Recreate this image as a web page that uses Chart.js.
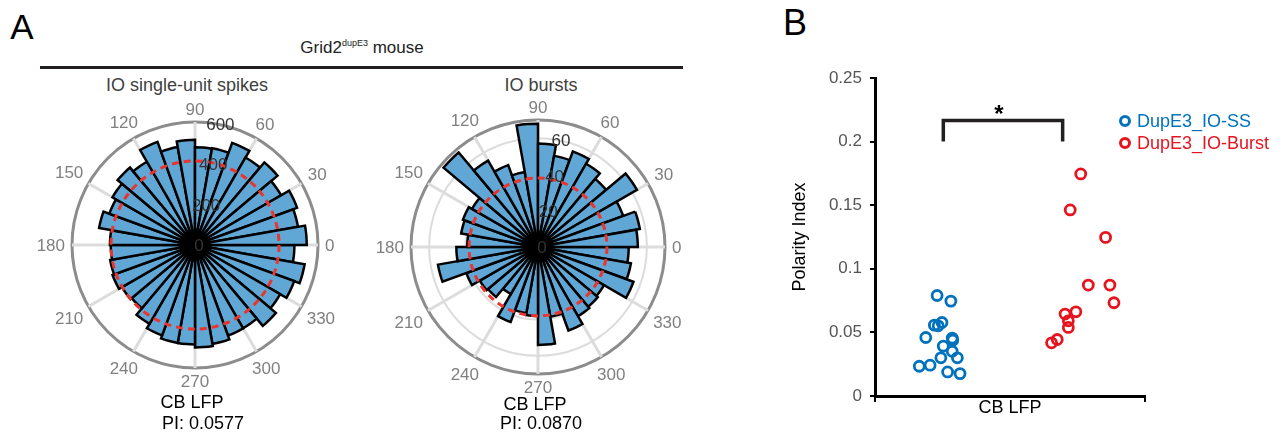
<!DOCTYPE html>
<html>
<head>
<meta charset="utf-8">
<script src="https://cdn.jsdelivr.net/npm/chart.js@4.4.1/dist/chart.umd.min.js"></script>
<style>
  body { margin: 0; width: 1286px; height: 437px; background: #fff; position: relative; overflow: hidden;
         font-family: "Liberation Sans", Arial, sans-serif; }
  .t { position: absolute; white-space: nowrap; line-height: 1; transform: translate(-50%, -50%); }
  .l { position: absolute; white-space: nowrap; line-height: 1; transform: translateY(-50%); font-size: 18px; }
  canvas { position: absolute; }
  .mk { position: absolute; width: 6px; height: 6px; border-radius: 50%; border: 3px solid; }
</style>
</head>
<body>
<div class="t" style="left:22px;top:26px;font-size:35px">A</div>
<div class="t" style="left:795px;top:23px;font-size:36px">B</div>
<div class="t" style="left:362px;top:47px;font-size:17px;color:#222">Grid2<sup style="font-size:9px;vertical-align:7px">dupE3</sup> mouse</div>
<div style="position:absolute;left:40px;top:66px;width:643px;height:3px;background:#231f20"></div>
<div class="t" style="left:187px;top:85px;font-size:18px;color:#404040">IO single-unit spikes</div>
<div class="t" style="left:541px;top:85px;font-size:18px;color:#404040">IO bursts</div>

<canvas id="roseSS" width="336" height="336" style="left:27px;top:77px"></canvas>
<canvas id="roseBurst" width="344" height="344" style="left:366px;top:75px"></canvas>

<div class="t" style="left:192px;top:402px;font-size:18px">CB LFP</div>
<div class="t" style="left:203px;top:423px;font-size:18px">PI: 0.0577</div>
<div class="t" style="left:535px;top:404px;font-size:18px">CB LFP</div>
<div class="t" style="left:541px;top:423px;font-size:18px">PI: 0.0870</div>

<canvas id="piChart" width="516" height="437" style="left:770px;top:0px"></canvas>
<div style="position:absolute;left:999px;top:102px;transform:translateX(-50%);font-size:24px;line-height:1;font-weight:bold">*</div>
<span class="mk" style="left:1119px;top:115px;border-color:#0072bd"></span>
<div class="l" style="left:1137px;top:121px;color:#0072bd">DupE3_IO-SS</div>
<span class="mk" style="left:1119px;top:137px;border-color:#e6141e"></span>
<div class="l" style="left:1137px;top:143px;color:#e6141e">DupE3_IO-Burst</div>

<script>
// bins de 10° (angle de départ de chaque bin)
const binStarts = [0, 10, 20, 30, 40, 50, 60, 70, 80, 90, 100, 110, 120, 130, 140, 150, 160, 170,
                   180, 190, 200, 210, 220, 230, 240, 250, 260, 270, 280, 290, 300, 310, 320, 330, 340, 350];
const thetaTicks = [0, 30, 60, 90, 120, 150, 180, 210, 240, 270, 300, 330];

// IO single-unit spikes
const ssCounts = [545, 510, 530, 485, 526, 493, 530, 479, 477, 513, 485, 535, 469, 493, 465, 445, 475, 415,
                  411, 420, 428, 411, 403, 444, 469, 485, 485, 500, 490, 470, 469, 515, 480, 515, 543, 485];
const ssRTicks = [0, 200, 400, 600];
const ssRMax = 600;
const ssDashed = 410;

// IO bursts
const burstCounts = [55, 57, 50, 63, 49, 53, 56, 51, 57, 68, 42, 48, 55, 68, 42, 44, 43, 39,
                     45, 56, 42, 37, 36, 30, 44, 37, 38, 54, 39, 49, 44, 43, 42, 56, 52, 50];
const burstRTicks = [0, 20, 40, 60];
const burstRMax = 70;
const burstDashed = 38;

// Panel B : Polarity Index (x = position de jitter)
const ssX  = [0.230, 0.281, 0.220, 0.234, 0.248, 0.188, 0.286, 0.288, 0.253, 0.286, 0.244, 0.305, 0.164, 0.204, 0.269, 0.315];
const ssPI = [0.079, 0.0746, 0.0557, 0.0552, 0.0578, 0.046, 0.0455, 0.0439, 0.0392, 0.0352, 0.030, 0.030, 0.0234, 0.0242, 0.0189, 0.0176];
const burstX  = [0.762, 0.723, 0.854, 0.790, 0.870, 0.885, 0.744, 0.704, 0.716, 0.716, 0.675, 0.654];
const burstPI = [0.1746, 0.1463, 0.1247, 0.0872, 0.0872, 0.0733, 0.0662, 0.0644, 0.0591, 0.0539, 0.0444, 0.0418];
const bracketX = [0.253, 0.253, 0.695, 0.695];
const bracketY = [0.200, 0.2166, 0.2166, 0.200];
const yTicks = [0, 0.05, 0.1, 0.15, 0.2, 0.25];

const FONT = '"Liberation Sans", Arial, sans-serif';

// --- libellés angulaires, ticks radiaux et cercle rouge ---
const roseDeco = {
    id: 'roseDeco',
    afterDatasetsDraw(chart, args, opts) {
        const s = chart.scales.r, ctx = chart.ctx;
        ctx.save();
        ctx.strokeStyle = '#e8352f';
        ctx.lineWidth = 3;
        ctx.setLineDash([7, 5]);
        ctx.beginPath();
        ctx.arc(s.xCenter, s.yCenter, s.getDistanceFromCenterForValue(opts.dashed), 0, Math.PI * 2);
        ctx.stroke();
        ctx.restore();
    },
    afterDraw(chart, args, opts) {
        const s = chart.scales.r, ctx = chart.ctx;
        const R = s.drawingArea;
        ctx.save();
        ctx.font = '17px ' + FONT;
        ctx.textAlign = 'center';
        ctx.textBaseline = 'alphabetic';
        const capH = 17 * 0.716;
        ctx.fillStyle = '#808080';
        thetaTicks.forEach(t => {
            const a = t * Math.PI / 180, txt = String(t);
            const w = ctx.measureText(txt).width;
            const d = R + 7 + Math.abs(Math.cos(a)) * w / 2 + Math.abs(Math.sin(a)) * capH / 2;
            ctx.fillText(txt, s.xCenter + d * Math.cos(a), s.yCenter - d * Math.sin(a) + capH / 2);
        });
        ctx.fillStyle = '#333';
        const a = 80 * Math.PI / 180;
        opts.rTicks.forEach(v => {
            const d = s.getDistanceFromCenterForValue(v);
            ctx.fillText(String(v), s.xCenter + d * Math.cos(a) + 4, s.yCenter - d * Math.sin(a) + capH / 2);
        });
        ctx.restore();
    }
};

function makeRose(id, counts, rTicks, rMax, dashed) {
    // polarArea tourne dans le sens horaire depuis la droite : on inverse l'ordre des bins
    const order = binStarts.map((b, i) => binStarts.length - 1 - i);
    new Chart(document.getElementById(id), {
        type: 'polarArea',
        data: {
            labels: order.map(k => binStarts[k] + '°'),
            datasets: [{
                data: order.map(k => counts[k]),
                backgroundColor: 'rgb(97,167,214)',
                borderColor: '#000',
                borderWidth: 2.5,
                borderJoinStyle: 'miter'
            }]
        },
        options: {
            responsive: false,
            animation: false,
            layout: { padding: 45 },
            plugins: {
                legend: { display: false },
                tooltip: { enabled: false },
                roseDeco: { rTicks: rTicks, dashed: dashed }
            },
            scales: {
                r: {
                    min: 0,
                    max: rMax,
                    startAngle: 90,
                    afterBuildTicks: s => {
                        const vals = rTicks[rTicks.length - 1] < rMax ? rTicks.concat([rMax]) : rTicks;
                        s.ticks = vals.map(v => ({ value: v }));
                    },
                    ticks: { display: false },
                    grid: {
                        circular: true,
                        color: c => c.tick && c.tick.value === rMax ? '#8c8c8c' : '#dcdcdc',
                        lineWidth: c => c.tick && c.tick.value === rMax ? 3 : 2
                    },
                    angleLines: {
                        display: true,
                        color: '#dcdcdc',
                        lineWidth: c => c.index % 3 === 0 ? 3 : 0
                    },
                    pointLabels: { display: false }
                }
            }
        },
        plugins: [roseDeco]
    });
}

makeRose('roseSS', ssCounts, ssRTicks, ssRMax, ssDashed);
makeRose('roseBurst', burstCounts, burstRTicks, burstRMax, burstDashed);

// --- Panel B ---
new Chart(document.getElementById('piChart'), {
    type: 'scatter',
    data: {
        datasets: [
            {
                label: 'DupE3_IO-SS',
                data: ssX.map((x, i) => ({ x: x, y: ssPI[i] })),
                borderColor: '#0072bd',
                backgroundColor: 'rgba(0,0,0,0)',
                pointRadius: 5,
                borderWidth: 2.8
            },
            {
                label: 'DupE3_IO-Burst',
                data: burstX.map((x, i) => ({ x: x, y: burstPI[i] })),
                borderColor: '#e6141e',
                backgroundColor: 'rgba(0,0,0,0)',
                pointRadius: 5,
                borderWidth: 2.8
            },
            {
                label: 'sig',
                data: bracketX.map((x, i) => ({ x: x, y: bracketY[i] })),
                showLine: true,
                borderColor: '#231f20',
                borderWidth: 3.5,
                borderJoinStyle: 'miter',
                pointRadius: 0,
                fill: false
            }
        ]
    },
    options: {
        responsive: false,
        animation: false,
        layout: { padding: { left: 0, right: 141, top: 78, bottom: 0 } },
        plugins: { legend: { display: false }, tooltip: { enabled: false } },
        scales: {
            x: {
                type: 'linear',
                min: 0,
                max: 1,
                afterBuildTicks: s => { s.ticks = [{ value: 0 }, { value: 1 }]; },
                ticks: { display: false },
                grid: { drawOnChartArea: false, drawTicks: true, tickLength: 6, color: '#000', lineWidth: 2 },
                border: { color: '#000', width: 3 },
                title: { display: true, text: 'CB LFP', color: '#000', font: { size: 18, family: FONT }, padding: { top: 0, bottom: 18 } },
                afterFit: s => { s.height = 41; }
            },
            y: {
                min: 0,
                max: 0.25,
                afterBuildTicks: s => { s.ticks = yTicks.map(v => ({ value: v })); },
                ticks: {
                    callback: v => String(+v.toFixed(2)),
                    color: '#555',
                    font: { size: 17, family: FONT },
                    padding: 8
                },
                grid: { drawOnChartArea: false, drawTicks: true, tickLength: 5, color: '#000', lineWidth: 2 },
                border: { color: '#000', width: 3 },
                title: { display: true, text: 'Polarity Index', color: '#000', font: { size: 18, family: FONT }, padding: { top: 19, bottom: 0 } },
                afterFit: s => { s.width = 105; }
            }
        }
    }
});
</script>
</body>
</html>
